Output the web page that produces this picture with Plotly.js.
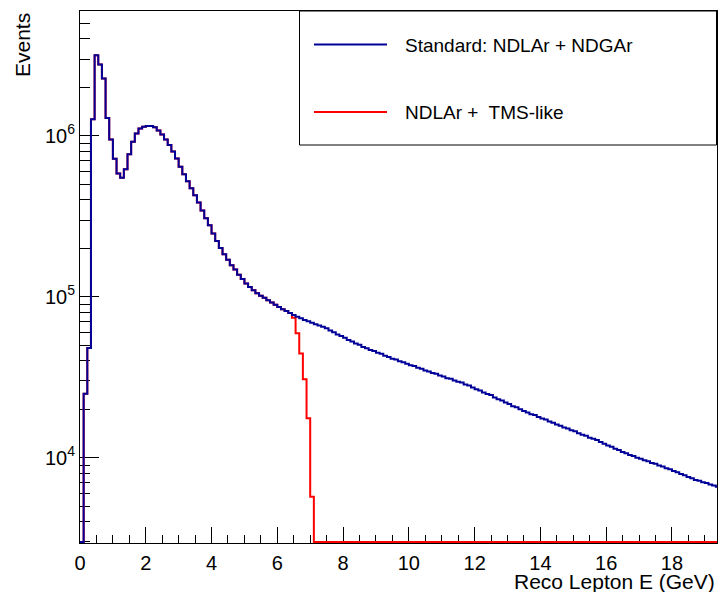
<!DOCTYPE html>
<html>
<head>
<meta charset="utf-8">
<script src="https://cdn.plot.ly/plotly-3.0.1.min.js"></script>
<style>
  html, body { margin: 0; padding: 0; background: #ffffff; }
  #chart { width: 719px; height: 592px; }
</style>
</head>
<body>
<div id="chart"></div>
<script>
// Reconstructed lepton energy spectra, fixed-width bins starting at 0 GeV
const binWidth = 1 / 9;   // GeV
const xMaxGeV = 19.37;

// Standard: NDLAr + NDGAr (events per bin)
const standardCounts = [
  0, 25000, 48000, 1270000, 3170000, 2780000, 2270000, 1290000, 950000, 720000,
  584000, 549000, 620000, 770000, 920000, 1035000, 1110000, 1140000, 1150000, 1150000,
  1130000, 1080000, 1020000,
  948000, 879000, 800000, 724000, 643000, 578000, 522000, 472000, 427000, 385000,
  344000, 308000, 278000, 247000, 222000, 201000, 184000, 170000, 157000, 147600,
  137000, 129000, 121000, 115000, 110000, 105200, 101400, 98600, 95300, 92000,
  89300, 86500, 83700, 81500, 79300, 77100, 75200, 73500, 71800, 70500,
  69000, 67600, 66400, 65200, 63800,
  61700, 60200, 58300, 57100, 55600, 53900, 52800, 51200, 50300, 48700,
  47900, 46700, 46000, 44900, 44200, 43000, 42300, 41200, 40700, 39700,
  39200, 38300, 37500, 37100, 36200, 35700, 34800, 34300, 33600, 33200,
  32400, 32000, 31200, 30900, 30200, 29600, 29300, 28500, 28100, 27300,
  26600, 26200, 25400, 24900, 24500, 23700, 23100, 22700, 22000, 21600,
  20900, 20600, 20000, 19500, 19100, 18600, 18400, 17900, 17500, 17300,
  16800, 16500, 16100, 15800, 15400, 15200, 14800, 14600, 14200, 13900,
  13700, 13300, 13100, 12900, 12500, 12200, 11900, 11700, 11350, 11150,
  10850, 10650, 10380, 10240, 10000, 9860, 9640, 9500, 9280, 9160,
  8950, 8820, 8600, 8470, 8260, 8120, 7920, 7780, 7580, 7460,
  7270, 7190, 7040, 6960, 6810, 6720, 6600
];

// NDLAr + TMS-like (events per bin); no entries above ~7.1 GeV
const tmsCounts = [
  0, 25000, 48000, 1270000, 3170000, 2780000, 2270000, 1290000, 950000, 720000,
  584000, 549000, 620000, 770000, 920000, 1035000, 1110000, 1140000, 1150000, 1150000,
  1130000, 1080000, 1020000,
  948000, 879000, 800000, 724000, 643000, 578000, 522000, 472000, 427000, 385000,
  344000, 308000, 278000, 247000, 222000, 201000, 184000, 170000, 157000, 147600,
  137000, 129000, 121000, 115000, 110000, 105200, 101400, 98600, 95300, 92000,
  89300, 86500, 83700, 81500, 79300,
  74000, 59300, 44500, 30700, 17600, 5730,
  0, 0, 0, 0, 0, 0, 0, 0, 0, 0, 0, 0, 0, 0, 0, 0, 0, 0, 0, 0,
  0, 0, 0, 0, 0, 0, 0, 0, 0, 0, 0, 0, 0, 0, 0, 0, 0, 0, 0, 0,
  0, 0, 0, 0, 0, 0, 0, 0, 0, 0, 0, 0, 0, 0, 0, 0, 0, 0, 0, 0,
  0, 0, 0, 0, 0, 0, 0, 0, 0, 0, 0, 0, 0, 0, 0, 0, 0, 0, 0, 0,
  0, 0, 0, 0, 0, 0, 0, 0, 0, 0, 0, 0, 0, 0, 0, 0, 0, 0, 0, 0,
  0, 0, 0, 0, 0, 0, 0, 0, 0, 0, 0
];

const seriesNames = ['Standard: NDLAr + NDGAr', 'NDLAr +  TMS-like'];
const seriesColors = ['#000099', '#ff0000'];

const yTickVals = [1e4, 1e5, 1e6];
const yTickText = ['10<sup>4</sup>', '10<sup>5</sup>', '10<sup>6</sup>'];
const yMinorVals = [
  3000, 4000, 5000, 6000, 7000, 8000, 9000,
  20000, 30000, 40000, 50000, 60000, 70000, 80000, 90000,
  200000, 300000, 400000, 500000, 600000, 700000, 800000, 900000,
  2000000, 3000000, 4000000, 5000000
];

// frame geometry (px)
const W = 719, H = 592;
const M = { l: 80, r: 2, t: 11, b: 49 };
const plotW = W - M.l - M.r, plotH = H - M.t - M.b;
const yRangeLog = [3.47, 6.776];
const pxPerDecade = plotH / (yRangeLog[1] - yRangeLog[0]);
const px = x => (x - M.l) / plotW;
const py = y => (H - M.b - y) / plotH;

// empty bins are drawn along the bottom of the frame, like ROOT does
const floorValue = Math.pow(10, yRangeLog[0] + 1 / pxPerDecade);

function stepTrace(counts, name, color) {
  const x = [], y = [];
  for (let i = 0; i <= counts.length; i++) {
    x.push(i * binWidth);
    const v = counts[Math.min(i, counts.length - 1)];
    y.push(v > 0 ? v : floorValue);
  }
  return {
    type: 'scatter', mode: 'lines', name: name, x: x, y: y,
    line: { shape: 'hv', color: color, width: 2 },
    hoverinfo: 'skip', showlegend: false
  };
}

const traces = [
  stepTrace(tmsCounts, seriesNames[1], seriesColors[1]),
  stepTrace(standardCounts, seriesNames[0], seriesColors[0])
];

const font = 'Liberation Sans, Arial, Helvetica, sans-serif';

const layout = {
  width: W, height: H,
  margin: M,
  paper_bgcolor: '#ffffff', plot_bgcolor: '#ffffff',
  font: { family: font, size: 20, color: '#000' },
  showlegend: false,
  xaxis: {
    range: [0, xMaxGeV], showgrid: false, zeroline: false,
    showline: true, linecolor: '#000', linewidth: 1, mirror: true,
    ticks: 'inside', ticklen: 16, tickwidth: 1, tickcolor: '#000',
    tick0: 0, dtick: 2, layer: 'below traces', ticklabelstandoff: 2,
    tickfont: { family: font, size: 20, color: '#000' },
    minor: { ticks: 'inside', ticklen: 8, tickwidth: 1, tickcolor: '#000', dtick: 0.5, tick0: 0 }
  },
  yaxis: {
    type: 'log', range: yRangeLog, showgrid: false, zeroline: false,
    showline: true, linecolor: '#000', linewidth: 1, mirror: true,
    ticks: 'inside', ticklen: 19, tickwidth: 1, tickcolor: '#000',
    tickmode: 'array', tickvals: yTickVals, ticktext: yTickText,
    layer: 'below traces',
    tickfont: { family: font, size: 20, color: '#000' },
    minor: { ticks: 'inside', ticklen: 10, tickwidth: 1, tickcolor: '#000', tickvals: yMinorVals }
  },
  shapes: [
    { type: 'rect', xref: 'paper', yref: 'paper',
      x0: px(299.5), x1: px(716.5), y0: py(145), y1: py(11),
      line: { color: '#000', width: 1 }, fillcolor: '#ffffff' },
    { type: 'line', xref: 'paper', yref: 'paper',
      x0: px(314), x1: px(387), y0: py(44.5), y1: py(44.5),
      line: { color: seriesColors[0], width: 2 } },
    { type: 'line', xref: 'paper', yref: 'paper',
      x0: px(314), x1: px(387), y0: py(112), y1: py(112),
      line: { color: seriesColors[1], width: 2 } }
  ],
  annotations: [
    { text: seriesNames[0], xref: 'paper', yref: 'paper', x: px(403), y: py(45),
      xanchor: 'left', yanchor: 'middle', showarrow: false,
      font: { family: font, size: 19, color: '#000' } },
    { text: seriesNames[1], xref: 'paper', yref: 'paper', x: px(403), y: py(112.5),
      xanchor: 'left', yanchor: 'middle', showarrow: false,
      font: { family: font, size: 19, color: '#000' } },
    { text: 'Reco Lepton E (GeV)', xref: 'paper', yref: 'paper', x: px(717), y: py(581),
      xanchor: 'right', yanchor: 'middle', showarrow: false,
      font: { family: font, size: 21, color: '#000' } },
    { text: 'Events', xref: 'paper', yref: 'paper', x: px(22), y: py(45),
      xanchor: 'center', yanchor: 'middle', textangle: -90, showarrow: false,
      font: { family: font, size: 21, color: '#000' } }
  ]
};

Plotly.newPlot('chart', traces, layout, { staticPlot: true, displayModeBar: false });
</script>
</body>
</html>
